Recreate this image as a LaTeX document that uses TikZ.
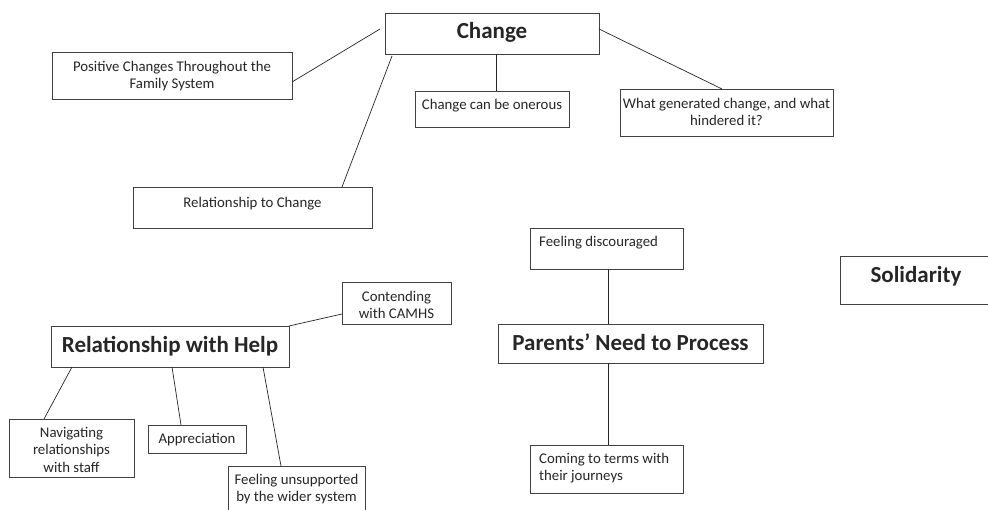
\documentclass[tikz,border=0pt]{standalone}
\usepackage{fontspec}
\setmainfont{Carlito}
\begin{document}
\begin{tikzpicture}[x=1pt,y=-1pt,
  box/.style={draw=black!75, line width=0.8pt, rectangle, inner sep=0pt, outer sep=0pt},
  lab/.style={inner sep=0pt, align=center, text=black!85, font=\fontsize{14.8}{17.5}\selectfont},
  labl/.style={inner sep=0pt, align=left, text=black!85, font=\fontsize{14.8}{17.5}\selectfont},
  big/.style={inner sep=0pt, align=center, text=black!85, font=\fontsize{23}{27}\selectfont\bfseries},
  conn/.style={draw=black!85, line width=0.7pt}]
\useasboundingbox (0,0) rectangle (988,510);
\fill[white] (0,0) rectangle (988,510);
\clip (0,0) rectangle (988,510);

% Change cluster
\node[box, minimum width=214pt, minimum height=41pt,
  label={[big, anchor=north, yshift=-9pt]north:Change}] (change) at (492,33.5) {};
\node[box, minimum width=240pt, minimum height=47pt,
  label={[lab, anchor=north, yshift=-9pt]north:{Positive Changes Throughout the\\Family System}}] (pos) at (172,75.5) {};
\node[box, minimum width=154pt, minimum height=36pt,
  label={[lab, anchor=north, yshift=-8pt]north:Change can be onerous}] (oner) at (492,109) {};
\node[box, minimum width=213pt, minimum height=47pt,
  label={[lab, anchor=north, yshift=-9pt]north:{What generated change, and what\\hindered it?}}] (what) at (726.5,112.5) {};
\node[box, minimum width=239pt, minimum height=41pt,
  label={[lab, anchor=north, yshift=-10pt]north:Relationship to Change}] (relch) at (252.5,207.5) {};

% Relationship with Help cluster
\node[box, minimum width=238pt, minimum height=41pt,
  label={[big, anchor=north, yshift=-10pt]north:Relationship with Help}] (rwh) at (170,346.5) {};
\node[box, minimum width=109pt, minimum height=42pt,
  label={[lab, anchor=north, yshift=-9pt]north:{Contending\\with CAMHS}}] (cont) at (396.5,303) {};
\node[box, minimum width=125pt, minimum height=58pt,
  label={[lab, anchor=north, yshift=-8pt]north:{Navigating\\relationships\\with staff}}] (nav) at (71.5,448) {};
\node[box, minimum width=98pt, minimum height=28pt,
  label={[lab, anchor=north, yshift=-8pt]north:Appreciation}] (app) at (197,439) {};
\node[box, minimum width=137pt, minimum height=48pt,
  label={[lab, anchor=north, yshift=-8pt]north:{Feeling unsupported\\by the wider system}}] (uns) at (296.5,490) {};

% Parents' Need to Process cluster
\node[box, minimum width=153pt, minimum height=41pt,
  label={[labl, anchor=north west, xshift=9pt, yshift=-8pt]north west:Feeling discouraged}] (disc) at (606.5,248.5) {};
\node[box, minimum width=265pt, minimum height=39pt,
  label={[big, anchor=north, yshift=-10pt]north:Parents’ Need to Process}] (pnp) at (630.5,343.5) {};
\node[box, minimum width=153pt, minimum height=48pt,
  label={[labl, anchor=north west, xshift=9pt, yshift=-8pt]north west:{Coming to terms with\\their journeys}}] (come) at (606.5,469) {};

% Solidarity
\node[box, minimum width=152pt, minimum height=48pt,
  label={[big, anchor=north, yshift=-10pt]north:Solidarity}] (sol) at (916,280) {};

% connectors
\draw[conn] ([xshift=-5pt,yshift=4.5pt]change.west) -- ([yshift=-6.5pt]pos.east);
\draw[conn] ([xshift=7pt,yshift=-2pt]change.south west) -- ([xshift=209pt]relch.north west);
\draw[conn] ([xshift=4pt]change.south) -- ([xshift=4pt]oner.north);
\draw[conn] ([yshift=4.5pt]change.east) -- ([xshift=-4.5pt]what.north);
\draw[conn] ([yshift=-11pt]cont.west) -- (rwh.north east);
\draw[conn] ([xshift=21pt]rwh.south west) -- ([xshift=35pt]nav.north west);
\draw[conn] ([xshift=121pt]rwh.south west) -- ([xshift=33pt]app.north west);
\draw[conn] ([xshift=212pt]rwh.south west) -- ([xshift=53pt]uns.north west);
\draw[conn] ([xshift=1.5pt]disc.south) -- ([xshift=1.5pt]disc.south |- pnp.north);
\draw[conn] ([xshift=1.5pt]come.north) -- ([xshift=1.5pt]come.north |- pnp.south);
\end{tikzpicture}
\end{document}
